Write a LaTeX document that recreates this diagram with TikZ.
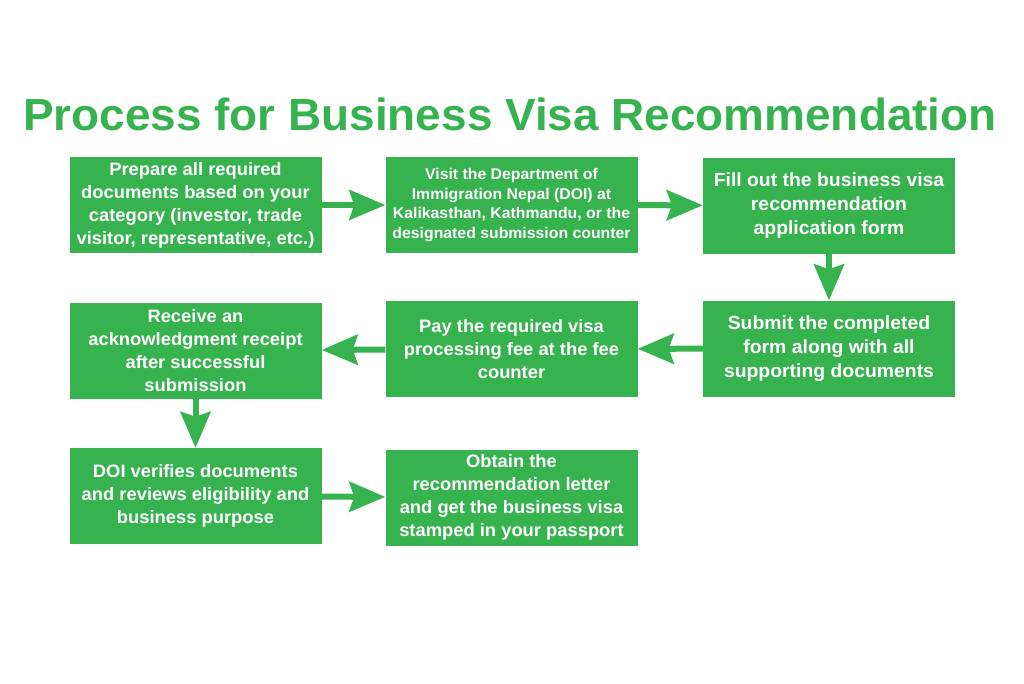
\documentclass[tikz,border=0pt]{standalone}
\usepackage{fontspec}
\setmainfont{Liberation Sans}[FakeStretch=1.02]
\usetikzlibrary{arrows.meta}
\definecolor{vgreen}{HTML}{36B24F}
\begin{document}
\begin{tikzpicture}[x=1pt,y=-1pt,
  box/.style={fill=vgreen, text=white, align=center, inner sep=0pt,
    minimum width=252pt, minimum height=96pt, font=\bfseries\fontsize{18}{23}\selectfont},
  flow/.style={draw=vgreen, line width=6pt, -{Stealth[length=36pt,width=30pt,inset=5pt]}}]
\useasboundingbox (0,0) rectangle (1024,683);
\node[text=vgreen, font=\bfseries\fontsize{45}{50}\selectfont] (title) at (510,114) {Process for Business Visa Recommendation};
\node[box] (b1) at (195.5,205) {Prepare all required\\documents based on your\\category (investor, trade\\visitor, representative, etc.)};
\node[box, font=\bfseries\fontsize{15.5}{19.7}\selectfont] (b2) at (511.5,205) {Visit the Department of\\Immigration Nepal (DOI) at\\Kalikasthan, Kathmandu, or the\\designated submission counter};
\node[box, font=\bfseries\fontsize{19}{24}\selectfont] (b3) at (829,205.5) {Fill out the business visa\\recommendation\\application form};
\node[box, font=\bfseries\fontsize{19}{24}\selectfont] (b6) at (829,348.5) {Submit the completed\\form along with all\\supporting documents};
\node[box] (b5) at (511.5,349) {Pay the required visa\\processing fee at the fee\\counter};
\node[box] (b4) at (195.5,350.5) {Receive an\\acknowledgment receipt\\after successful\\submission};
\node[box] (b7) at (195.5,496) {DOI verifies documents\\and reviews eligibility and\\business purpose};
\node[box] (b8) at (511.5,497.5) {Obtain the\\recommendation letter\\and get the business visa\\stamped in your passport};
\draw[flow] (b1) -- (b2);
\draw[flow] (b2) -- (b3);
\draw[flow] (b3) -- (b6);
\draw[flow] (b6) -- (b5);
\draw[flow] (b5) -- (b4);
\draw[flow] (b4) -- (b7);
\draw[flow] (b7) -- (b8);
\end{tikzpicture}
\end{document}
